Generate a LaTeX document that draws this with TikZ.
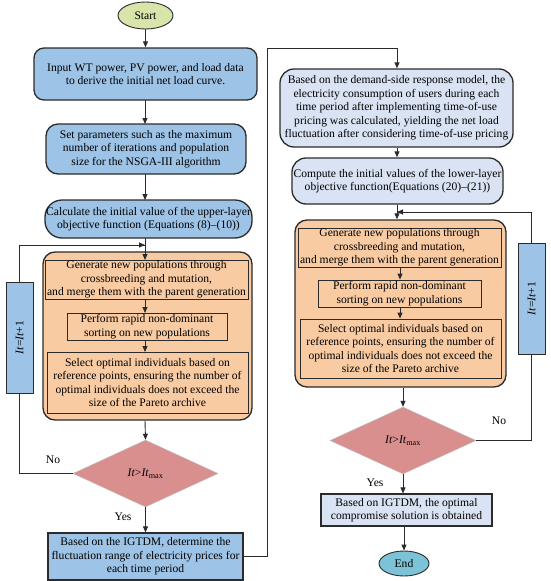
\documentclass[tikz,border=0pt]{standalone}
\usepackage{fontspec}
\setmainfont{Liberation Serif}
\usetikzlibrary{shapes.geometric,arrows.meta}
\definecolor{bluebox}{HTML}{9DC3E6}
\definecolor{lavbox}{HTML}{DAE3F3}
\definecolor{orangebox}{HTML}{F8CBA2}
\definecolor{diafill}{HTML}{D88F8E}
\definecolor{startgreen}{HTML}{D7E4AA}
\definecolor{endteal}{HTML}{7DC3D8}
\definecolor{edge}{HTML}{2B2B2B}
\tikzset{
  base/.style={draw=edge, align=center, inner sep=0.5pt, font=\fontsize{11.6}{13.5}\selectfont},
  bluebox/.style={base, fill=bluebox, line width=1.3pt},
  lavbox/.style={base, fill=lavbox, line width=1.3pt},
  orbox/.style={draw=edge, fill=orangebox, line width=1.3pt, rounded corners=12pt},
  inbox/.style={base, line width=0.8pt},
  dia/.style={base, diamond, fill=diafill, line width=0.5pt, draw=white!70!edge, inner sep=0pt},
  itbox/.style={base, fill=bluebox, line width=0.9pt, rotate=90},
  term/.style={base, ellipse, line width=0.9pt, inner sep=0pt},
  conn/.style={draw=edge, line width=0.9pt, -{Triangle[length=6pt,width=5pt]}},
  line/.style={draw=edge, line width=0.9pt},
  lbl/.style={font=\fontsize{11.6}{13}\selectfont}
}
\begin{document}
\begin{tikzpicture}[x=1pt,y=-1pt]
\useasboundingbox (0,0) rectangle (550,581);
% left column
\node[term, fill=startgreen, minimum width=55pt, minimum height=27pt] (start) at (145.5,15.5) {Start};
\node[bluebox, rounded corners=10pt, minimum width=223pt, minimum height=52pt] (input) at (145.5,74)
  {Input WT power, PV power, and load data\\to derive the initial net load curve.};
\node[bluebox, rounded corners=12pt, minimum width=200pt, minimum height=50pt] (param) at (146,149)
  {Set parameters such as the maximum\\number of iterations and population\\size for the NSGA-III algorithm};
\node[bluebox, rounded corners=17pt, minimum width=207pt, minimum height=38pt] (calc) at (148.5,219)
  {Calculate the initial value of the upper-layer\\objective function (Equations (8)--(10))};
\node[orbox, minimum width=209pt, minimum height=168pt] (orL) at (147.5,336) {};
\node[inbox, minimum width=203pt, minimum height=39pt] (in1L) at (146.5,279.5)
  {Generate new populations through\\crossbreeding and mutation,\\and merge them with the parent generation};
\node[inbox, minimum width=160pt, minimum height=27pt] (in2L) at (147,326.5)
  {Perform rapid non-dominant\\sorting on new populations};
\node[inbox, minimum width=201pt, minimum height=61pt] (in3L) at (147.5,382.5)
  {Select optimal individuals based on\\reference points, ensuring the number of\\optimal individuals does not exceed the\\size of the Pareto archive};
\node[itbox, minimum width=111pt, minimum height=27pt] (itL) at (19.5,337.5) {\textit{It}=\textit{It}+1};
\node[dia, minimum width=145pt, minimum height=67pt] (diaL) at (145.5,473.5) {\textit{It}>\textit{It}\textsubscript{max}};
\node[bluebox, line width=1.1pt, minimum width=195pt, minimum height=47pt] (igt) at (145.5,556.5)
  {Based on the IGTDM, determine the\\fluctuation range of electricity prices for\\each time period};
% right column
\node[lavbox, rounded corners=14pt, minimum width=233pt, minimum height=78pt] (demand) at (396.5,108)
  {Based on the demand-side response model, the\\electricity consumption of users during each\\time period after implementing time-of-use\\pricing was calculated, yielding the net load\\fluctuation after considering time-of-use pricing};
\node[lavbox, rounded corners=14pt, minimum width=211pt, minimum height=46pt] (compute) at (397.5,181)
  {Compute the initial values of the lower-layer\\objective function(Equations (20)--(21))};
\node[orbox, minimum width=211pt, minimum height=167pt] (orR) at (400.5,303.5) {};
\node[inbox, minimum width=203pt, minimum height=39pt] (in1R) at (399.5,247.5)
  {Generate new populations through\\crossbreeding and mutation,\\and merge them with the parent generation};
\node[inbox, minimum width=163pt, minimum height=27pt] (in2R) at (399.5,293.5)
  {Perform rapid non-dominant\\sorting on new populations};
\node[inbox, minimum width=201pt, minimum height=59pt] (in3R) at (400.5,348.5)
  {Select optimal individuals based on\\reference points, ensuring the number of\\optimal individuals does not exceed the\\size of the Pareto archive};
\node[itbox, minimum width=111pt, minimum height=27pt] (itR) at (531.5,298.5) {\textit{It}=\textit{It}+1};
\node[dia, minimum width=146pt, minimum height=67pt] (diaR) at (403,440.5) {\textit{It}>\textit{It}\textsubscript{max}};
\node[lavbox, line width=1.1pt, minimum width=171pt, minimum height=32pt] (final) at (406.5,510)
  {Based on IGTDM, the optimal\\compromise solution is obtained};
\node[term, fill=endteal, minimum width=50pt, minimum height=25pt] (endn) at (404,563.5) {End};
% labels
\node[lbl] (noL) at (53,460) {No};
\node[lbl] (yesL) at (123,517) {Yes};
\node[lbl] (noR) at (499,421) {No};
\node[lbl] (yesR) at (375,483) {Yes};
% junction coordinates
\coordinate (jL) at (145,245);
\coordinate (jR) at (397,212);
\coordinate (topR) at (397,48);
\coordinate (midX) at (267,48);
% left connectors
\draw[conn] (start.south) -- (start.south |- input.north);
\draw[conn] (145,100) -- (145,124);
\draw[conn] (145,174) -- (145,200);
\draw[line] (145,238) -- (jL);
\draw[conn] (jL) -- (145,260);
\draw[conn] (in1L.south -| 145,0) -- (145,313);
\draw[conn] (in2L.south -| 145,0) -- (145,352);
\draw[conn] (orL.south -| 145,0) -- (diaL.north);
\draw[conn] (diaL.south) -- (igt.north -| diaL.south);
\draw[line] (diaL.west) -| (itL.west);
\draw[line] (itL.east) |- (jL);
\draw[conn] (19,245) -- (jL);
% cross connector
\draw[conn] (igt.east) -| (midX) -| (demand.north -| jR);
% right connectors
\draw[conn] (demand.south -| jR) -- (compute.north -| jR);
\draw[line] (compute.south -| jR) -- (jR);
\draw[conn] (jR) -- (orR.north -| jR);
\draw[conn] (in1R.south -| 400,0) -- (in2R.north -| 400,0);
\draw[conn] (in2R.south -| 400,0) -- (in3R.north -| 400,0);
\draw[conn] (orR.south -| diaR.north) -- (diaR.north);
\draw[conn] (diaR.south) -- (final.north -| diaR.south);
\draw[conn] (final.south -| endn.north) -- (endn.north);
\draw[line] (diaR.east) -| (itR.west);
\draw[line] (itR.east) |- (jR);
\draw[conn] (532,212) -- (jR);
\end{tikzpicture}
\end{document}
